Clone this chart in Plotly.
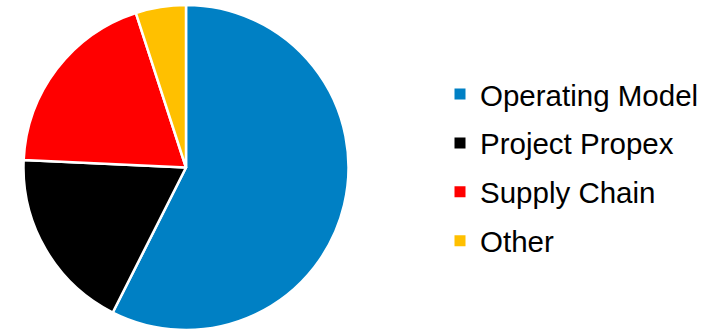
import plotly.graph_objects as go

labels = ["Operating Model", "Project Propex", "Supply Chain", "Other"]
values = [57.5, 18.3, 19.3, 5.0]
colors = ["#0080C4", "#000000", "#FF0000", "#FFC000"]

W, H = 709, 330

fig = go.Figure()
fig.add_trace(go.Pie(
    labels=labels, values=values, sort=False, direction="clockwise", rotation=0,
    marker=dict(colors=colors, line=dict(color="white", width=2.5)),
    textinfo="none", hoverinfo="label+percent", showlegend=False,
    domain=dict(x=[0, 372 / W], y=[0, 1]),
))

# Legend entries (one per category)
for i, (lab, col) in enumerate(zip(labels, colors)):
    fig.add_trace(go.Scatter(
        x=[None], y=[None], mode="markers", name=lab, legendgroup=f"g{i}",
        marker=dict(symbol="square", size=11, color=col, line=dict(width=0)),
        showlegend=True,
    ))

fig.update_layout(
    width=W, height=H, autosize=False,
    margin=dict(l=0, r=0, t=5, b=0, autoexpand=False),
    paper_bgcolor="white", plot_bgcolor="white",
    xaxis=dict(visible=False), yaxis=dict(visible=False),
    font=dict(family="Liberation Sans, Arial, sans-serif", color="#000000"),
    legend=dict(
        xref="container", yref="container",
        x=440 / W, xanchor="left",
        y=1 - 167.4 / H, yanchor="middle",
        font=dict(size=29.5, family="Liberation Sans, Arial, sans-serif", color="#000000"),
        tracegroupgap=7.5, itemsizing="trace", bgcolor="rgba(0,0,0,0)",
        maxheight=1,
    ),
)

fig.write_html("out.html", config={"displayModeBar": False},
               post_script="document.body.style.margin='0px';")
